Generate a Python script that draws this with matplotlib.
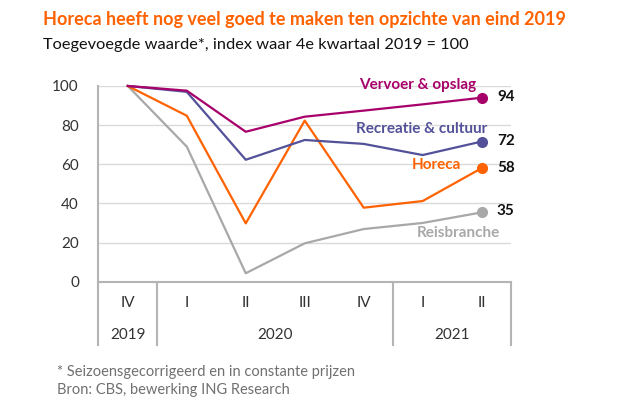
import matplotlib
matplotlib.use("Agg")
import matplotlib.pyplot as plt
import matplotlib.transforms as mtransforms

plt.rcParams['font.family'] = ['Lato', 'DejaVu Sans']

# data (index, 4e kwartaal 2019 = 100)
quarters = ['IV', 'I', 'II', 'III', 'IV', 'I', 'II']
years = ['2019', '2020', '2021']
year_pos = [0, 2.5, 5.5]
vervoer = [100, 97.6, 76.6, 84.3, 87.4, 90.6, 94]
recreatie = [100, 97, 62.3, 72.4, 70.4, 64.7, 71.6]
horeca = [100, 84.8, 29.8, 82.3, 37.8, 41.2, 58]
reis = [100, 69, 4.3, 19.6, 26.9, 30, 35.4]

c_verv = '#A8006B'
c_recr = '#525199'
c_hor = '#FF6200'
c_reis = '#A8A8A8'
grid_c = '#DADADA'
line_c = '#B4B4B4'
txt_c = '#333333'

fig = plt.figure(figsize=(6.36, 4.08), dpi=100)
ax = fig.add_axes([0.1546, 0.3096, 0.649, 0.4797])

x = list(range(len(quarters)))
series = [(reis, c_reis), (horeca, c_hor), (recreatie, c_recr), (vervoer, c_verv)]
for vals, col in series:
    ax.plot(x, vals, color=col, lw=1.6, clip_on=False, zorder=3)
    ax.plot(x[-1], vals[-1], 'o', color=col, ms=7, clip_on=False, zorder=4)

ax.set_xlim(-0.5, 6.5)
ax.set_ylim(0, 100)
ax.set_yticks([0, 20, 40, 60, 80, 100])
for yv in [20, 40, 60, 80, 100]:
    ax.axhline(yv, color=grid_c, lw=1, zorder=1)
ax.set_xticks([])
ax.tick_params(axis='y', length=0, pad=14, labelsize=11, labelcolor=txt_c)
for s in ['top', 'right', 'left']:
    ax.spines[s].set_visible(False)
ax.spines['bottom'].set_color(line_c)
ax.spines['bottom'].set_linewidth(1.5)

# table below the axis
trans = mtransforms.blended_transform_factory(ax.transData, ax.transAxes)
tab_bot = -0.323
ax.plot([-0.5, -0.5], [1, tab_bot], color=line_c, lw=1.5, transform=trans, clip_on=False)
for xv in [0.5, 4.5, 6.5]:
    ax.plot([xv, xv], [0, tab_bot], color=line_c, lw=1.5, transform=trans, clip_on=False)
for xv, q in zip(x, quarters):
    ax.text(xv, -0.109, q, transform=trans, ha='center', va='center', fontsize=11, color=txt_c)
for xv, yr in zip(year_pos, years):
    ax.text(xv, -0.272, yr, transform=trans, ha='center', va='center', fontsize=11, color=txt_c)

# series labels
ax.text(5.91, 100.5, 'Vervoer & opslag', color=c_verv, fontsize=11, fontweight='bold', ha='right', va='center')
ax.text(6.09, 78, 'Recreatie & cultuur', color=c_recr, fontsize=11, fontweight='bold', ha='right', va='center')
ax.text(5.66, 59.5, 'Horeca', color=c_hor, fontsize=11, fontweight='bold', ha='right', va='center')
ax.text(6.32, 24.9, 'Reisbranche', color=c_reis, fontsize=11, fontweight='bold', ha='right', va='center')

# end values
for vals, yoff in [(vervoer, 0.5), (recreatie, 0.4), (horeca, 0), (reis, 0.6)]:
    ax.text(6.26, vals[-1] + yoff, '%d' % round(vals[-1]), fontsize=11, fontweight='bold',
            color='#111111', ha='left', va='center')

fig.text(43 / 636, 1 - 20 / 408, 'Horeca heeft nog veel goed te maken ten opzichte van eind 2019',
         color=c_hor, fontsize=13, fontweight='bold', ha='left', va='center')
fig.text(43 / 636, 1 - 45 / 408, 'Toegevoegde waarde*, index waar 4e kwartaal 2019 = 100',
         color='#111111', fontsize=11.8, ha='left', va='center')
fig.text(57 / 636, 1 - 372 / 408, '* Seizoensgecorrigeerd en in constante prijzen',
         color='#707070', fontsize=10.5, ha='left', va='center')
fig.text(57 / 636, 1 - 390 / 408, 'Bron: CBS, bewerking ING Research',
         color='#707070', fontsize=10.5, ha='left', va='center')

fig.savefig('out.png', dpi=100)
